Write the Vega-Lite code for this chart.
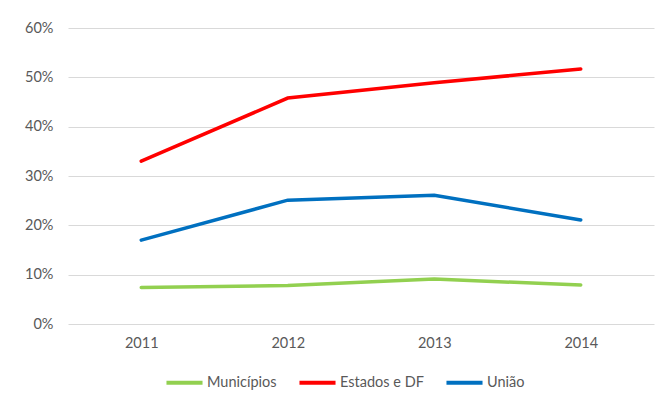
{
  "$schema": "https://vega.github.io/schema/vega-lite/v6.json",
  "width": 586,
  "height": 296,
  "autosize": "none",
  "padding": {"left": 68, "top": 28, "right": 8, "bottom": 81},
  "background": "white",
  "data": {
    "values": [
      {"ano": "2011", "serie": "Municípios", "valor": 0.074},
      {"ano": "2012", "serie": "Municípios", "valor": 0.078},
      {"ano": "2013", "serie": "Municípios", "valor": 0.091},
      {"ano": "2014", "serie": "Municípios", "valor": 0.079},
      {"ano": "2011", "serie": "Estados e DF", "valor": 0.330},
      {"ano": "2012", "serie": "Estados e DF", "valor": 0.458},
      {"ano": "2013", "serie": "Estados e DF", "valor": 0.489},
      {"ano": "2014", "serie": "Estados e DF", "valor": 0.517},
      {"ano": "2011", "serie": "União", "valor": 0.170},
      {"ano": "2012", "serie": "União", "valor": 0.251},
      {"ano": "2013", "serie": "União", "valor": 0.261},
      {"ano": "2014", "serie": "União", "valor": 0.211}
    ]
  },
  "mark": {"type": "line", "strokeWidth": 3.5, "strokeCap": "round"},
  "encoding": {
    "x": {
      "field": "ano", "type": "ordinal",
      "scale": {"type": "point", "padding": 0.5},
      "axis": {"title": null, "labelAngle": 0, "domain": false, "ticks": false, "labelPadding": 12, "grid": false}
    },
    "y": {
      "field": "valor", "type": "quantitative",
      "scale": {"domain": [0, 0.6]},
      "axis": {"title": null, "format": ".0%", "values": [0, 0.1, 0.2, 0.3, 0.4, 0.5, 0.6], "domain": false, "ticks": false, "labelPadding": 15, "gridColor": "#d9d9d9", "gridWidth": 1}
    },
    "color": {
      "field": "serie", "type": "nominal",
      "scale": {"domain": ["Municípios", "Estados e DF", "União"], "range": ["#92D050", "#FF0000", "#0070C0"]},
      "legend": {
        "title": null, "orient": "none", "direction": "horizontal",
        "legendX": 96, "legendY": 334,
        "symbolType": "stroke", "symbolSize": 1300, "symbolStrokeWidth": 4,
        "labelOffset": 2, "columnPadding": 14
      }
    }
  },
  "config": {
    "view": {"stroke": null},
    "font": "Lato",
    "axis": {"labelFont": "Lato", "labelFontSize": 14.5, "labelColor": "#595959"},
    "legend": {"labelFont": "Lato", "labelFontSize": 14.5, "labelColor": "#595959"}
  }
}
